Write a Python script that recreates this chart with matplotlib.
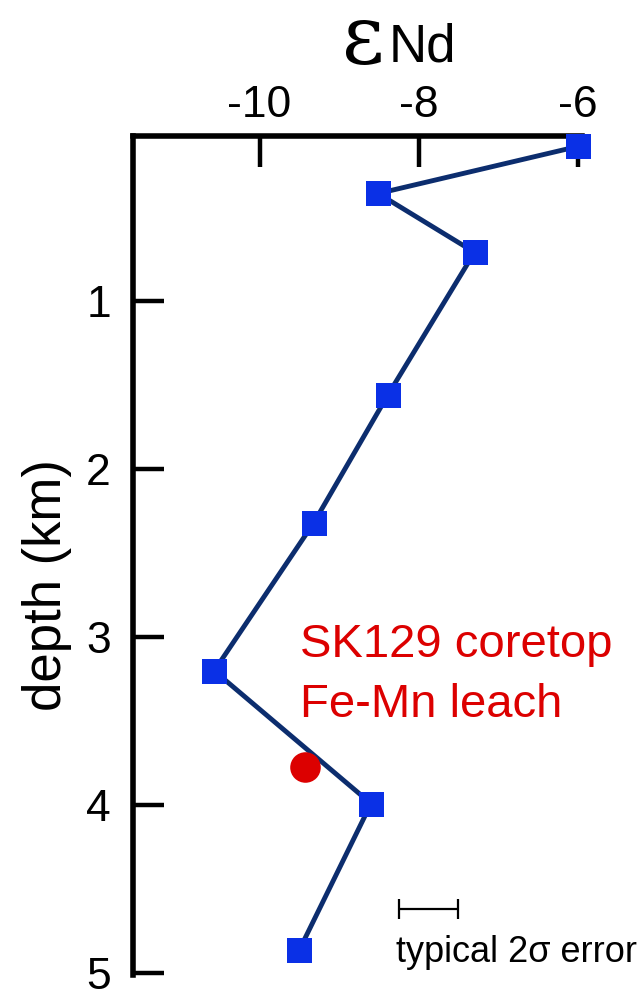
"""
plot.py - seawater eNd depth profile with SK129 coretop Fe-Mn leach.
"""

import matplotlib
matplotlib.use('Agg')
import matplotlib.pyplot as plt

plt.rcParams['font.family'] = ['Liberation Sans', 'DejaVu Sans']

# ── Data ─────────────────────────────────────────────────────────────────────

# seawater profile (eNd vs depth in km)
EPS_ND = [-6.00, -8.51, -7.30, -8.39, -9.32, -10.57, -8.60, -9.50]
DEPTH_KM = [0.08, 0.36, 0.71, 1.56, 2.32, 3.20, 3.99, 4.86]

# SK129 coretop Fe-Mn leach
LEACH_EPS = [-9.43]
LEACH_DEPTH = [3.77]

# typical 2-sigma error bar
ERR_EPS = -7.88
ERR_DEPTH = 4.62
ERR_HALF = 0.37

X_TICKS = [-10, -8, -6]
Y_TICKS = [1, 2, 3, 4, 5]

LINE_COL = '#0c2d6e'
MARKER_COL = '#0a30e6'
RED = '#dc0000'

W, H = 644, 1000


def fx(px):
    return px / W


def fy(py):
    return 1 - py / H


# ── Figure ───────────────────────────────────────────────────────────────────

fig = plt.figure(figsize=(W / 100, H / 100), dpi=100)
ax = fig.add_axes([fx(133), fy(975), fx(582) - fx(133), fy(136) - fy(975)])

ax.plot(EPS_ND, DEPTH_KM, color=LINE_COL, linewidth=3.5, zorder=2)
ax.plot(EPS_ND, DEPTH_KM, 's', color=MARKER_COL, markersize=18,
        markeredgewidth=0, zorder=3, clip_on=False)
ax.plot(LEACH_EPS, LEACH_DEPTH, 'o', color=RED, markersize=22,
        markeredgewidth=0, zorder=4)

ax.errorbar([ERR_EPS], [ERR_DEPTH], xerr=[ERR_HALF], fmt='none',
            ecolor='black', elinewidth=1.6, capsize=7, capthick=1.6)

ax.set_xlim(-11.59, -5.95)
ax.set_ylim(5.01, 0.018)

ax.xaxis.tick_top()
ax.set_xticks(X_TICKS)
ax.set_xticklabels([str(v) for v in X_TICKS])
ax.set_yticks(Y_TICKS)

for side in ('right', 'bottom'):
    ax.spines[side].set_visible(False)
for side in ('top', 'left'):
    ax.spines[side].set_linewidth(4)

ax.tick_params(axis='x', direction='in', length=22, width=3.2,
               labelsize=32, pad=7)
ax.tick_params(axis='y', direction='in', length=22, width=3.2,
               labelsize=32, pad=16)

ax.set_ylabel('depth (km)', fontsize=38)
ax.yaxis.set_label_coords((72 - 133) / 449, (975 - 585) / 839)

# title: epsilon Nd
fig.text(fx(385), fy(63), '\u03b5', fontsize=59,
         ha='right', va='baseline', family='DejaVu Serif')
fig.text(fx(389), fy(62), 'Nd', fontsize=38, ha='left', va='baseline')

fig.text(fx(300), fy(657), 'SK129 coretop', fontsize=34,
         color=RED, ha='left', va='baseline')
fig.text(fx(300), fy(717), 'Fe-Mn leach', fontsize=34,
         color=RED, ha='left', va='baseline')

fig.text(fx(396), fy(962), 'typical 2\u03c3 error', fontsize=26,
         ha='left', va='baseline')

fig.savefig('out.png', dpi=100)
